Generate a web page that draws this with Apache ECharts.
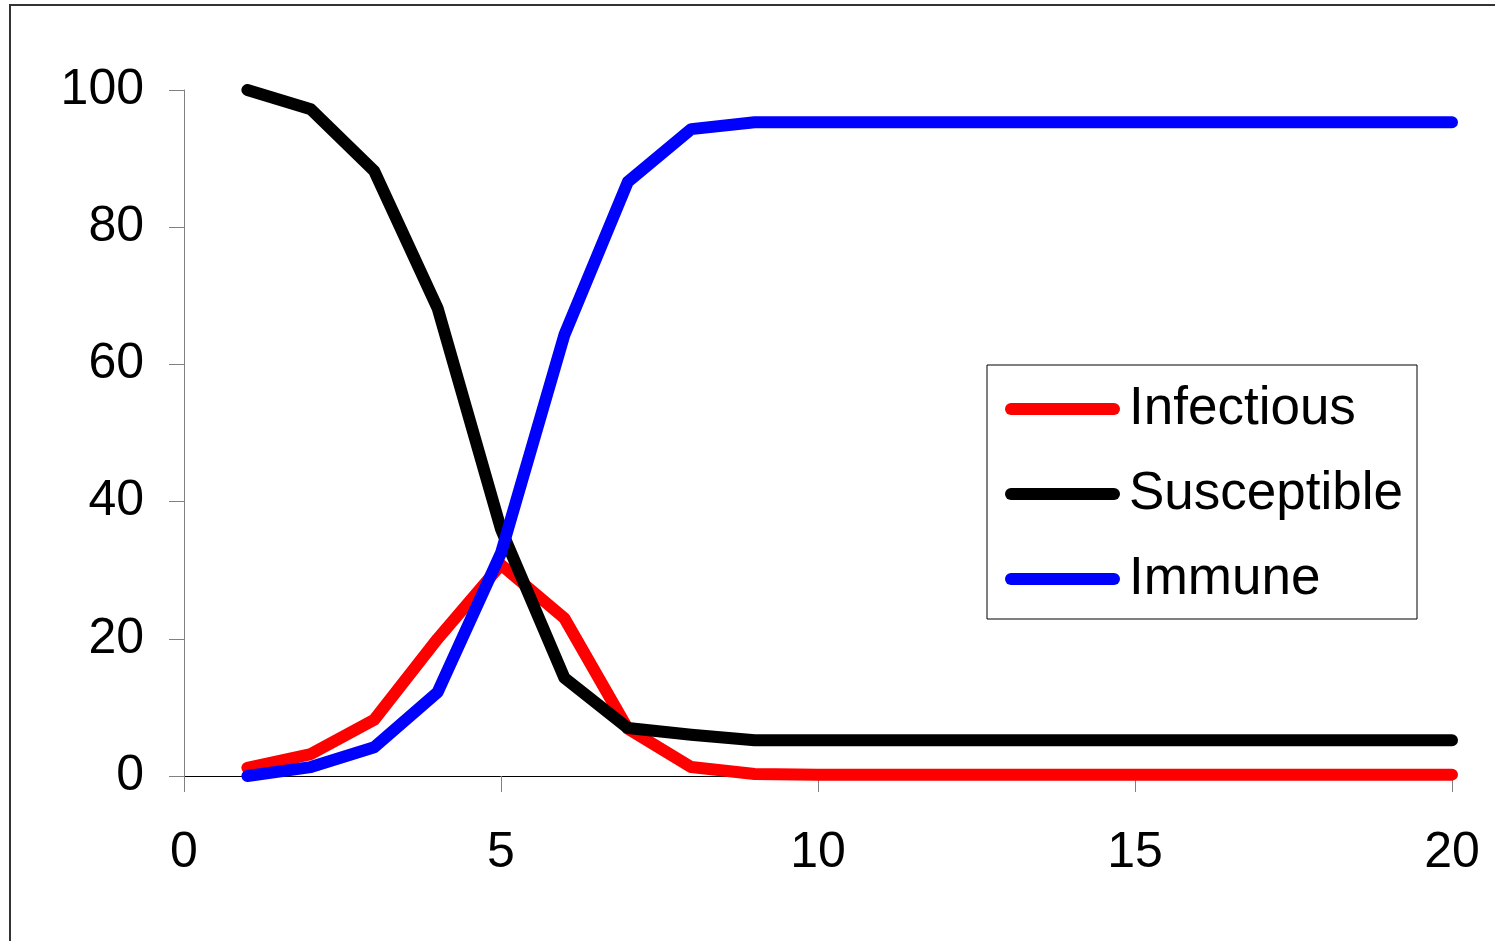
<!DOCTYPE html>
<html>
<head>
<meta charset="utf-8">
<script src="https://cdn.jsdelivr.net/npm/echarts@6/dist/echarts.min.js"></script>
<style>
html,body{margin:0;padding:0;background:#fff;}
#chart{width:1495px;height:941px;}
</style>
</head>
<body>
<div id="chart"></div>
<script>
const days = [1,2,3,4,5,6,7,8,9,10,11,12,13,14,15,16,17,18,19,20];
const infectious = [1.2,3.2,8.2,20,30.8,23,6.9,1.3,0.3,0.2,0.2,0.2,0.2,0.2,0.2,0.2,0.2,0.2,0.2,0.2];
const susceptible = [100,97.2,88.2,68.2,36,14.3,7,6,5.2,5.2,5.2,5.2,5.2,5.2,5.2,5.2,5.2,5.2,5.2,5.2];
const immune = [0,1.3,4.2,12.2,32.5,64.3,86.6,94.3,95.3,95.3,95.3,95.3,95.3,95.3,95.3,95.3,95.3,95.3,95.3,95.3];
const seriesNames = ['Infectious','Susceptible','Immune'];
const seriesColors = ['#ff0000','#000000','#0000ff'];
const xTicks = {min:0, max:20, interval:5};
const yTicks = {min:0, max:100, interval:20};

const pair = (vals) => days.map((d,i)=>[d, vals[i]]);
const allData = [infectious, susceptible, immune];

const chart = echarts.init(document.getElementById('chart'), null, {renderer:'canvas'});
const font = 'Liberation Sans, Arial, sans-serif';
chart.setOption({
  animation:false,
  backgroundColor:'#fff',
  graphic:[{
    type:'rect', z:100,
    shape:{x:10, y:5, width:2000, height:2000},
    style:{fill:'none', stroke:'#333', lineWidth:2}
  }],
  grid:{left:184, right:43, top:90, bottom:165},
  xAxis:{
    type:'value', min:xTicks.min, max:xTicks.max, interval:xTicks.interval,
    axisLine:{show:true, onZero:false, lineStyle:{color:'#000', width:1}},
    axisTick:{show:true, length:16, lineStyle:{color:'#808080', width:1}},
    splitLine:{show:false},
    axisLabel:{color:'#000', fontSize:50, fontFamily:font, margin:52}
  },
  yAxis:{
    type:'value', min:yTicks.min, max:yTicks.max, interval:yTicks.interval,
    axisLine:{show:true, lineStyle:{color:'#808080', width:1}},
    axisTick:{show:true, length:15, lineStyle:{color:'#808080', width:1}},
    splitLine:{show:false},
    axisLabel:{color:'#000', fontSize:50, fontFamily:font, margin:40}
  },
  legend:{
    orient:'vertical', left:987, top:365,
    backgroundColor:'#fff', borderColor:'#000', borderWidth:1, borderRadius:0,
    padding:[16,14,12,18], itemGap:29, itemWidth:115, itemHeight:12,
    icon:'path://M6,0 H109 A6,6 0 0 1 109,12 H6 A6,6 0 0 1 6,0 Z',
    textStyle:{color:'#000', fontSize:53, fontFamily:font, lineHeight:56, padding:[0,0,0,4]},
    data:seriesNames
  },
  series: seriesNames.map((n,i)=>({
    name:n, type:'line', data:pair(allData[i]), showSymbol:false, symbol:'none',
    z:2+i,
    color:seriesColors[i],
    lineStyle:{color:seriesColors[i], width:12, cap:'round', join:'round'}
  }))
});
</script>
</body>
</html>
